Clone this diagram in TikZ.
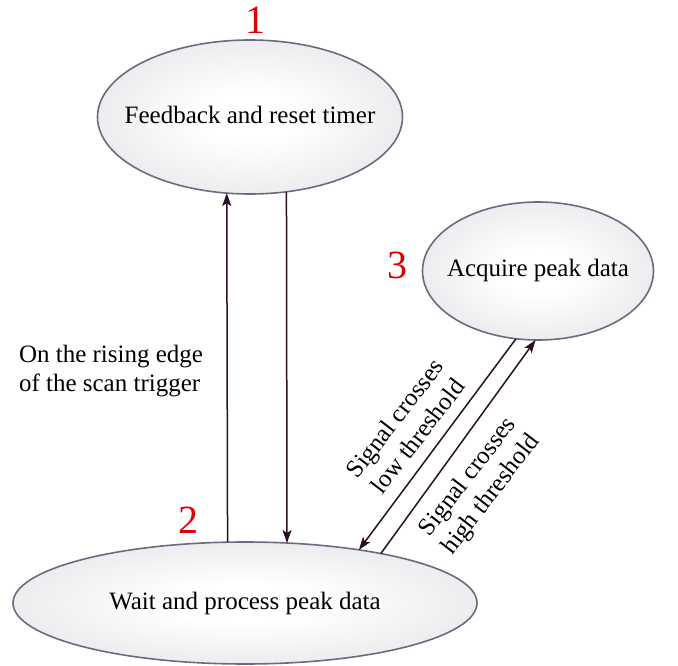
\documentclass[tikz,border=0pt]{standalone}
\usepackage{fontspec}
\setmainfont{Liberation Serif}
\newfontfamily\timesf{Liberation Serif}
\usetikzlibrary{arrows.meta,shapes.geometric}
\definecolor{edge}{HTML}{6B6B80}
\definecolor{arr}{HTML}{2A0E24}
\definecolor{numred}{HTML}{DD0000}
\definecolor{shadeout}{HTML}{D2D2D7}
\pgfdeclareradialshading{ellshade}{\pgfpoint{0bp}{0bp}}{color(0bp)=(white); color(8bp)=(white); color(50bp)=(shadeout); color(100bp)=(shadeout)}
\begin{document}
\begin{tikzpicture}[x=1pt,y=-1pt,
  state/.style={ellipse, draw=edge, line width=1.6pt, shading=ellshade,
    font=\timesf\fontsize{25}{29}\selectfont, outer sep=0pt, inner sep=0pt},
  lbl/.style={font=\timesf\fontsize{25}{29}\selectfont, align=center, inner sep=0pt},
  num/.style={font=\timesf\fontsize{40}{40}\selectfont, text=numred, inner sep=0pt},
  conn/.style={draw=arr, line width=1.5pt, -{Stealth[length=13pt,width=9pt,inset=3pt]}}]
\useasboundingbox (0,0) rectangle (678,666);
\node[state, minimum width=305pt, minimum height=154pt] (f) at (250,117) {\makebox[0pt]{\raisebox{5pt}{Feedback and reset timer}}};
\node[state, minimum width=231pt, minimum height=138pt] (a) at (538,271) {\makebox[0pt]{\raisebox{6pt}{Acquire peak data}}};
\node[state, minimum width=464pt, minimum height=122pt] (w) at (245,603) {\makebox[0pt]{Wait and process peak data}};
\node[num] (n1) at (255,20) {1};
\node[num] (n2) at (188,520) {2};
\node[num] (n3) at (397,265) {3};
\draw[conn] (w.106.5) -- (f.253.2);
\draw[conn] (f.296.4) -- (w.55);
\draw[conn] (a.252) -- (w.25.7);
\draw[conn] (w.20.2) -- (a.268.4);
\node[lbl, align=left] (l1) at (111,371) {On the rising edge\\of the scan trigger};
\node[lbl, rotate=52.4] (l2) at (406,427) {Signal crosses\\low threshold};
\node[lbl, rotate=52.4] (l3) at (480,486) {Signal crosses\\high threshold};
\end{tikzpicture}
\end{document}
